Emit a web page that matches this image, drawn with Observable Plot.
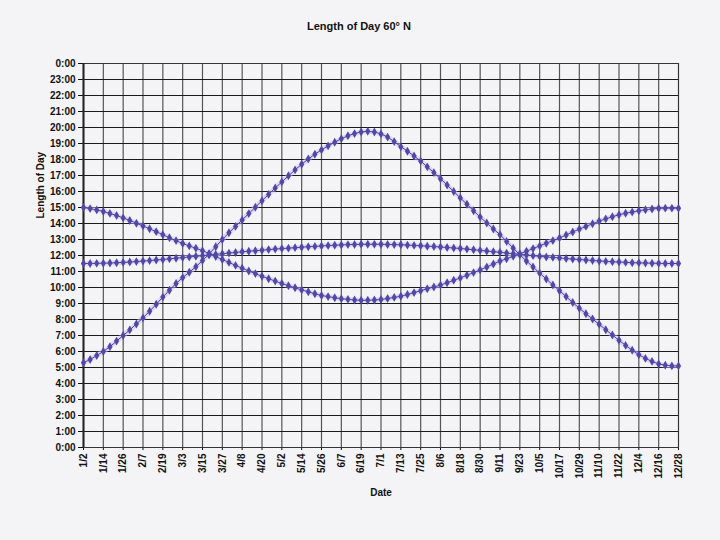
<!DOCTYPE html>
<html><head><meta charset="utf-8">
<script src="https://cdn.jsdelivr.net/npm/d3@7"></script>
<script src="https://cdn.jsdelivr.net/npm/@observablehq/plot@0.6"></script>
<style>body{margin:0;background:#f4f4f6}</style>
</head><body><div id="chart"></div>
<script>
const titleText = "Length of Day 60° N";
const xLabel = "Date";
const yLabel = "Length of Day";

const tickDays = [2,14,26,38,50,62,74,86,98,110,122,134,146,158,170,182,194,206,218,230,242,254,266,278,290,302,314,326,338,350,362];
const tickLabels = ["1/2","1/14","1/26","2/7","2/19","3/3","3/15","3/27","4/8","4/20","5/2","5/14","5/26","6/7","6/19","7/1","7/13","7/25","8/6","8/18","8/30","9/11","9/23","10/5","10/17","10/29","11/10","11/22","12/4","12/16","12/28"];
const yTicks = [0,1,2,3,4,5,6,7,8,9,10,11,12,13,14,15,16,17,18,19,20,21,22,23,24];
const yTickLabels = ["0:00","1:00","2:00","3:00","4:00","5:00","6:00","7:00","8:00","9:00","10:00","11:00","12:00","13:00","14:00","15:00","16:00","17:00","18:00","19:00","20:00","21:00","22:00","23:00","0:00"];

const days = [2,6,10,14,18,22,26,30,34,38,42,46,50,54,58,62,66,70,74,78,82,86,90,94,98,102,106,110,114,118,122,126,130,134,138,142,146,150,154,158,162,166,170,174,178,182,186,190,194,198,202,206,210,214,218,222,226,230,234,238,242,246,250,254,258,262,266,270,274,278,282,286,290,294,298,302,306,310,314,318,322,326,330,334,338,342,346,350,354,358,362];

const seriesA = [5.30,5.50,5.75,6.00,6.30,6.65,7.00,7.35,7.72,8.10,8.52,8.95,9.40,9.83,10.25,10.62,10.95,11.30,11.68,12.10,12.55,13.00,13.42,13.82,14.22,14.62,15.02,15.42,15.82,16.22,16.60,16.98,17.35,17.70,18.03,18.33,18.60,18.85,19.08,19.30,19.48,19.62,19.72,19.76,19.72,19.60,19.40,19.12,18.80,18.52,18.22,17.90,17.54,17.18,16.80,16.40,16.00,15.60,15.20,14.80,14.40,14.03,13.66,13.30,12.88,12.46,12.05,11.66,11.28,10.90,10.53,10.16,9.80,9.43,9.06,8.70,8.36,8.03,7.70,7.36,7.03,6.70,6.38,6.08,5.80,5.57,5.38,5.22,5.14,5.10,5.10];

const seriesB = [11.50,11.50,11.51,11.52,11.53,11.55,11.57,11.59,11.62,11.65,11.68,11.72,11.75,11.79,11.83,11.87,11.91,11.95,11.99,12.03,12.07,12.11,12.15,12.19,12.23,12.27,12.30,12.33,12.37,12.40,12.43,12.46,12.49,12.52,12.55,12.57,12.60,12.62,12.64,12.66,12.68,12.69,12.70,12.70,12.70,12.70,12.69,12.68,12.67,12.65,12.63,12.61,12.58,12.56,12.53,12.50,12.47,12.44,12.40,12.36,12.32,12.28,12.24,12.20,12.15,12.11,12.07,12.03,11.99,11.95,11.91,11.88,11.85,11.81,11.78,11.75,11.72,11.69,11.66,11.63,11.61,11.59,11.57,11.55,11.54,11.53,11.52,11.51,11.50,11.50,11.50];

const seriesC = [15.00,14.93,14.85,14.75,14.63,14.50,14.35,14.19,14.02,13.85,13.67,13.49,13.30,13.11,12.93,12.75,12.60,12.45,12.30,12.12,11.93,11.75,11.57,11.38,11.20,11.03,10.87,10.70,10.55,10.40,10.25,10.11,9.98,9.85,9.73,9.61,9.50,9.43,9.36,9.30,9.26,9.22,9.20,9.20,9.22,9.25,9.31,9.38,9.45,9.56,9.68,9.80,9.92,10.03,10.15,10.30,10.45,10.60,10.77,10.93,11.10,11.28,11.47,11.65,11.80,11.95,12.10,12.27,12.43,12.60,12.77,12.93,13.10,13.28,13.47,13.65,13.82,13.98,14.15,14.29,14.42,14.55,14.64,14.72,14.80,14.86,14.91,14.95,14.96,14.96,14.95];

const data = [];
days.forEach((d, i) => {
  data.push({day: d, hours: seriesA[i], s: "A"});
  data.push({day: d, hours: seriesB[i], s: "B"});
  data.push({day: d, hours: seriesC[i], s: "C"});
});
const xLab = new Map(tickDays.map((d, i) => [d, tickLabels[i]]));
const yLab = new Map(yTicks.map((d, i) => [d, yTickLabels[i]]));

const chart = Plot.plot({
  width: 720, height: 540,
  marginLeft: 83, marginRight: 42, marginTop: 63, marginBottom: 93,
  style: {background: "#f4f4f6", fontFamily: "Liberation Sans, Arial, sans-serif", fontSize: "10px", fontWeight: "bold", color: "#111"},
  x: {domain: [2, 362], ticks: tickDays, tickFormat: d => xLab.get(d), tickRotate: -90, tickSize: 3, tickPadding: 3, label: null},
  y: {domain: [0, 24], ticks: yTicks, tickFormat: d => yLab.get(d), tickSize: 5, tickPadding: 3, label: null},
  marks: [
    Plot.ruleX(tickDays, {stroke: "#555", strokeWidth: 1.2}),
    Plot.ruleY(yTicks, {stroke: "#1a1a1a", strokeWidth: 1}),
    Plot.frame({stroke: "#333"}),
    Plot.ruleX([2], {stroke: "#222", strokeWidth: 2}),
    Plot.line(data, {x: "day", y: "hours", z: "s", stroke: "#c8c0f2", strokeWidth: 5, strokeOpacity: 0.5}),
    Plot.line(data, {x: "day", y: "hours", z: "s", stroke: "#4a3e9c", strokeWidth: 1}),
    Plot.dot(data, {x: "day", y: "hours", symbol: "diamond", r: 2.7, fill: "#5346a6"}),
    Plot.text([titleText], {text: d => d, frameAnchor: "top", dx: -22, dy: -41, fontSize: 11, fontWeight: "bold", fill: "#111"}),
    Plot.text([xLabel], {text: d => d, frameAnchor: "bottom", dy: 48, fontSize: 10, fontWeight: "bold", fill: "#111"}),
    Plot.text([yLabel], {text: d => d, frameAnchor: "left", dx: -43, dy: -37, rotate: -90, fontSize: 10, fontWeight: "bold", fill: "#111"})
  ]
});
document.getElementById("chart").appendChild(chart);
</script>
</body></html>
